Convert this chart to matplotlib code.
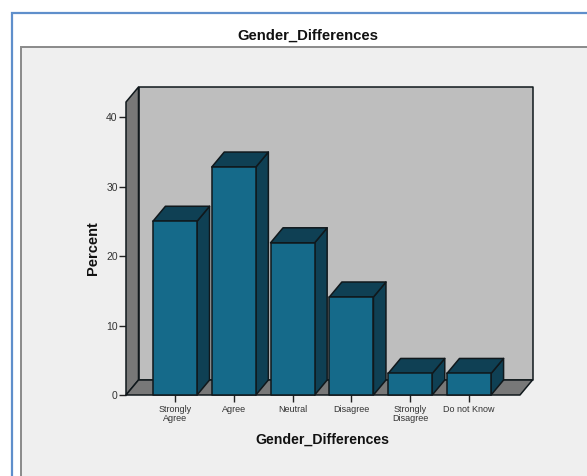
import matplotlib
matplotlib.use("Agg")
import matplotlib.pyplot as plt
from matplotlib.patches import Polygon, Rectangle

plt.rcParams["font.family"] = ["Liberation Sans", "DejaVu Sans"]

categories = ["Strongly\nAgree", "Agree", "Neutral", "Disagree", "Strongly\nDisagree", "Do not Know"]
percent = [25.0, 32.8, 21.9, 14.1, 3.1, 3.1]
y_ticks = [0, 10, 20, 30, 40]

W, H = 587, 476
FRONT = "#156a8a"
DARK = "#0f4054"
EDGE = "#10181c"
WALL = "#787878"
BACK = "#bebebe"

fig = plt.figure(figsize=(W / 100, H / 100), dpi=100, facecolor="white")


def px_rect(x0, y0, x1, y1, **kw):
    # rectangle given in pixels from the top left corner
    fig.add_artist(Rectangle((x0 / W, 1 - y1 / H), (x1 - x0) / W, (y1 - y0) / H,
                             transform=fig.transFigure, zorder=-5, **kw))


px_rect(12, 13, 600, 490, facecolor="white", edgecolor="#5f8fcb", linewidth=1.6)
px_rect(21, 47, 600, 490, facecolor="#efefef", edgecolor="#8a8a8a", linewidth=1.4)

fig.text(307.5 / W, 1 - 35.5 / H, "Gender_Differences", fontsize=10.7, fontweight="bold",
         ha="center", va="center", color="#111111")

# front plane of the 3D box
ax = fig.add_axes([126 / W, 1 - 395 / H, 394 / W, 293 / H], facecolor="none", zorder=5)
ax.set_xlim(-0.833, 5.867)
ax.set_ylim(0, 42.16)
for s in ax.spines.values():
    s.set_visible(False)

dx = 12.5 / 58.8
dy = 15 / 6.95
x0, x1 = ax.get_xlim()
y1 = ax.get_ylim()[1]
bar_w = 0.75


def poly(pts, color, z):
    ax.add_patch(Polygon(pts, closed=True, facecolor=color, edgecolor=EDGE,
                         linewidth=1.1, joinstyle="round", clip_on=False, zorder=z))


# walls and floor
poly([(x0 + dx, dy), (x1 + dx, dy), (x1 + dx, y1 + dy), (x0 + dx, y1 + dy)], BACK, 1)
poly([(x0, 0), (x0 + dx, dy), (x0 + dx, y1 + dy), (x0, y1)], WALL, 2)
poly([(x0, 0), (x1, 0), (x1 + dx, dy), (x0 + dx, dy)], WALL, 2)

# bars: side and top faces first, then the front
for i, v in enumerate(percent):
    l, r = i - bar_w / 2, i + bar_w / 2
    z = 3 + i
    poly([(r, 0), (r + dx, dy), (r + dx, v + dy), (r, v)], DARK, z)
    poly([(l, v), (r, v), (r + dx, v + dy), (l + dx, v + dy)], DARK, z)
    poly([(l, 0), (r, 0), (r, v), (l, v)], FRONT, z)

ax.set_yticks(y_ticks)
ax.set_xticks(range(len(categories)))
ax.set_xticklabels(categories, linespacing=0.95)
ax.tick_params(axis="y", length=5, width=1, color="#222222", labelsize=7.5,
               labelcolor="#333333", pad=1)
ax.tick_params(axis="x", length=5, width=1, color="#222222", labelsize=6.5,
               labelcolor="#333333", pad=2.5)

fig.text(93 / W, 1 - 248 / H, "Percent", fontsize=10.5, fontweight="bold", rotation=90,
         ha="center", va="center", color="#111111")
fig.text(322 / W, 1 - 440 / H, "Gender_Differences", fontsize=10.2, fontweight="bold",
         ha="center", va="center", color="#111111")

fig.savefig("out.png", dpi=100)
